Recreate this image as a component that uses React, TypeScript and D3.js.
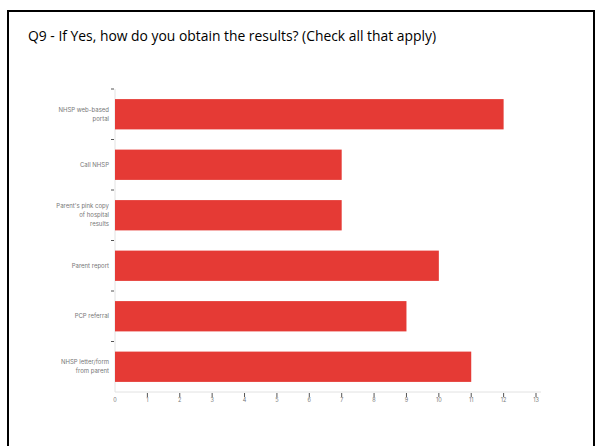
import React from "react";
import * as d3 from "d3";

const categories: string[][] = [
  ["NHSP web-based", "portal"],
  ["Call NHSP"],
  ["Parent's pink copy", "of hospital", "results"],
  ["Parent report"],
  ["PCP referral"],
  ["NHSP letter/form", "from parent"],
];
const values: number[] = [12, 7, 7, 10, 9, 11];
const xTicks: number[] = [0, 1, 2, 3, 4, 5, 6, 7, 8, 9, 10, 11, 12, 13];
const title = "Q9 - If Yes, how do you obtain the results? (Check all that apply)";

const W = 596;
const H = 446;
const plotLeft = 115;
const plotRight = 541;
const plotTop = 89;
const plotBottom = 392;

export default function App() {
  const x = d3.scaleLinear().domain([0, 13]).range([plotLeft, 536]);
  const y = d3
    .scaleBand<number>()
    .domain(d3.range(values.length))
    .range([plotTop, plotBottom])
    .paddingInner(0.4)
    .paddingOuter(0.2);
  const step = y.step();
  const boundaries = d3.range(values.length).map((i) => plotTop + i * step);

  return (
    <svg
      width={W}
      height={H}
      style={{ position: "absolute", left: 0, top: 0, background: "#fff" }}
    >
      <rect x={0} y={0} width={W} height={H} fill="#fff" />
      <rect x={8} y={11} width={586} height={500} fill="none" stroke="#000" strokeWidth={2} />
      <text
        x={28}
        y={41}
        fontFamily="'Open Sans', 'Liberation Sans', sans-serif"
        fontSize={15}
        fill="#000"
        textLength={408}
        lengthAdjust="spacingAndGlyphs"
      >
        {title}
      </text>

      {/* axes lines */}
      <line x1={plotLeft} x2={plotLeft} y1={plotTop} y2={plotBottom} stroke="#e2e2e2" strokeWidth={1} />
      <line x1={plotLeft} x2={plotRight} y1={plotBottom} y2={plotBottom} stroke="#e2e2e2" strokeWidth={1} />

      {/* y ticks at band boundaries */}
      {boundaries.map((b, i) => (
        <line key={"yt" + i} x1={111} x2={114} y1={b} y2={b} stroke="#555" strokeWidth={1} />
      ))}

      {/* bars */}
      {values.map((v, i) => (
        <rect
          key={"b" + i}
          x={x(0)}
          y={y(i)!}
          width={x(v) - x(0)}
          height={y.bandwidth()}
          fill="#e53a35"
        />
      ))}

      {/* category labels */}
      {categories.map((lines, i) => {
        const cy = y(i)! + y.bandwidth() / 2;
        const lh = 9;
        const start = cy - ((lines.length - 1) * lh) / 2;
        return (
          <text
            key={"c" + i}
            textAnchor="end"
            fontFamily="Inter, 'Noto Sans', sans-serif"
            fontSize={6}
            fill="#777"
          >
            {lines.map((l, j) => (
              <tspan key={j} x={109} y={start + j * lh} dy="0.35em">
                {l}
              </tspan>
            ))}
          </text>
        );
      })}

      {/* x ticks */}
      {xTicks.map((t) => (
        <g key={"xt" + t}>
          {t > 0 && (
            <line x1={x(t)} x2={x(t)} y1={393} y2={397} stroke="#555" strokeWidth={1} />
          )}
          <text
            x={x(t)}
            y={400}
            dy="0.35em"
            textAnchor="middle"
            fontFamily="Inter, 'Noto Sans', sans-serif"
            fontSize={5.5}
            fill="#777"
          >
            {t}
          </text>
        </g>
      ))}
    </svg>
  );
}
